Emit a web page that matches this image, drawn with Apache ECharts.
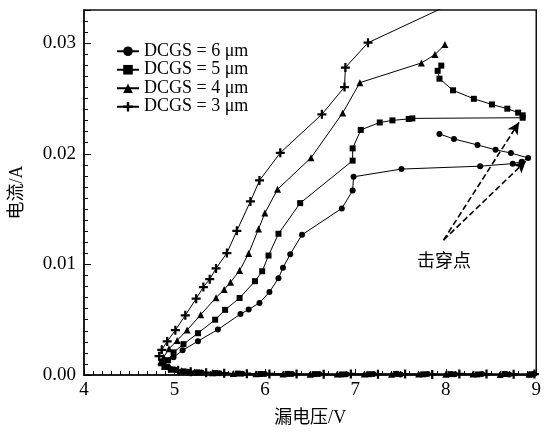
<!DOCTYPE html>
<html><head><meta charset="utf-8">
<script src="https://cdn.jsdelivr.net/npm/echarts@6/dist/echarts.min.js"></script>
<style>html,body{margin:0;padding:0;background:#fff}#c{width:544px;height:432px}</style>
</head><body><div id="c"></div>
<script>
var seriesNames = ['DCGS = 6 μm', 'DCGS = 5 μm', 'DCGS = 4 μm', 'DCGS = 3 μm'];
var xTicks = [4, 5, 6, 7, 8, 9];
var yTicks = [0, 0.01, 0.02, 0.03];

// DCGS = 6um (circles)
var v6 = [8.97,8.7,8.4,8.1,7.8,7.5,7.2,6.9,6.6,6.3,6.0,5.75,5.5,5.3,5.15,5.02,4.93,4.88,
  4.99,5.09,5.26,5.48,5.73,5.82,5.94,6.05,6.15,6.20,6.28,6.41,6.85,6.97,6.98,7.51,8.38,8.74,8.84,8.91,8.72,8.55,8.35,8.09,7.93];
var i6 = [0.00008,0.00005,0.00009,0.00006,0.0001,0.00005,0.00008,0.00006,0.00009,0.00008,0.0001,0.00012,0.00015,0.00022,0.0003,0.00045,0.0007,0.001,
  0.0016,0.00223,0.00306,0.00411,0.00551,0.00592,0.00652,0.0075,0.00875,0.0097,0.01092,0.01268,0.01506,0.01667,0.01792,0.01862,0.01888,0.01911,0.01929,0.01962,0.02007,0.02036,0.0208,0.02134,0.02179];

// DCGS = 5um (squares)
var v5 = [8.95,8.65,8.35,8.05,7.75,7.45,7.15,6.85,6.55,6.25,5.95,5.7,5.45,5.25,5.1,4.98,4.9,4.86,
  4.93,4.99,5.10,5.26,5.45,5.56,5.72,5.89,5.97,6.04,6.15,6.39,6.97,6.97,7.06,7.27,7.41,7.59,7.63,8.85,8.85,8.80,8.68,8.51,8.31,8.08,7.93,7.91,7.95];
var i5 = [0.00006,0.00009,0.00005,0.00008,0.00006,0.0001,0.00007,0.00005,0.00008,0.0001,0.00009,0.00013,0.00017,0.00024,0.00033,0.0005,0.00075,0.0011,
  0.00134,0.00205,0.00279,0.00378,0.005,0.00589,0.00696,0.00848,0.00938,0.0108,0.01277,0.01554,0.01938,0.02049,0.02216,0.02283,0.02302,0.02315,0.0232,0.02326,0.02348,0.02372,0.02408,0.02446,0.02497,0.02574,0.02679,0.0275,0.02797];

// DCGS = 4um (triangles)
var v4 = [8.92,8.6,8.3,8.0,7.7,7.4,7.1,6.8,6.5,6.2,5.9,5.65,5.42,5.22,5.08,4.97,4.89,4.85,
  4.88,4.94,5.03,5.14,5.29,5.46,5.55,5.62,5.72,5.82,5.93,6.00,6.14,6.51,6.86,7.05,7.73,7.88,7.99];
var i4 = [0.00007,0.00005,0.0001,0.00006,0.00009,0.00007,0.0001,0.00008,0.00006,0.00009,0.00011,0.00014,0.0002,0.00028,0.00038,0.00055,0.0008,0.0012,
  0.0016,0.00237,0.00313,0.00406,0.00545,0.00699,0.00772,0.00839,0.00944,0.01098,0.01321,0.01464,0.01679,0.01964,0.02369,0.02643,0.02821,0.02897,0.02987];

// DCGS = 3um (plus)
var v3 = [8.98,8.75,8.45,8.15,7.85,7.55,7.25,6.95,6.65,6.35,6.05,5.8,5.55,5.35,5.18,5.04,4.94,4.87,
  4.83,4.86,4.92,5.01,5.12,5.24,5.32,5.39,5.46,5.58,5.69,5.84,5.94,6.17,6.63,6.88,6.89,7.14,8.24];
var i3 = [0.00009,0.00006,0.00008,0.0001,0.00005,0.00009,0.00007,0.0001,0.00006,0.00008,0.0001,0.00012,0.00016,0.00021,0.0003,0.00042,0.0006,0.0009,
  0.0017,0.00228,0.00304,0.00405,0.0054,0.0069,0.00795,0.00866,0.00964,0.01103,0.01304,0.01569,0.01759,0.02009,0.02357,0.02603,0.0278,0.03004,0.03424];

// annotation arrows (data coordinates): start, upper tip, lower tip
var arrowStart = [7.975, 0.0122];
var arrowTipUpper = [8.81, 0.02285];
var arrowTipLower = [8.885, 0.01935];
var annotationText = '击穿点';

function pairs(v, i) { return v.map(function (x, k) { return [x, i[k]]; }); }

var serif = "'Liberation Serif', 'DejaVu Serif', 'Noto Sans CJK SC', serif";
var cjk = "'Liberation Serif', 'Noto Sans CJK SC', serif";
var plusPath = 'path://M3,0H5V3H8V5H5V8H3V5H0V3H3Z';
var symbols = ['circle', 'rect', 'triangle', plusPath];
var sizes = [6, 6, 7, 9];
var datas = [pairs(v6, i6), pairs(v5, i5), pairs(v4, i4), pairs(v3, i3)];

var series = datas.map(function (d, k) {
  var s = {
    name: seriesNames[k], type: 'line', data: d, yAxisIndex: 0,
    symbol: symbols[k], symbolSize: sizes[k], showAllSymbol: true,
    lineStyle: { color: '#000', width: 1 },
    itemStyle: { color: '#000', borderWidth: 0 },
    clip: true, z: 3
  };
  if (k === 0) {
    s.markLine = {
      silent: true, symbol: ['none', 'arrow'], symbolSize: [9, 12],
      label: { show: false },
      lineStyle: { color: '#000', type: [6, 3], width: 1.6 },
      data: [
        [{ coord: arrowStart }, { coord: arrowTipUpper }],
        [{ coord: arrowStart }, { coord: arrowTipLower }]
      ]
    };
  }
  return s;
});

var chart = echarts.init(document.getElementById('c'), null, { renderer: 'canvas' });
chart.setOption({
  animation: false,
  backgroundColor: '#fff',
  grid: { left: 83, right: 5, top: 10, bottom: 53, show: true, borderColor: '#111', borderWidth: 1.5, backgroundColor: 'transparent' },
  legend: {
    orient: 'vertical', left: 111, top: 37, itemWidth: 22, itemHeight: 12, itemGap: 0,
    data: seriesNames,
    textStyle: { fontFamily: serif, fontSize: 18, color: '#000', lineHeight: 18.5 },
    inactiveColor: '#000'
  },
  xAxis: {
    type: 'value', min: 4, max: 9, interval: 1,
    name: '漏电压/V', nameLocation: 'middle', nameGap: 34,
    nameTextStyle: { fontFamily: cjk, fontSize: 18, color: '#000' },
    axisLine: { show: true, lineStyle: { color: '#111', width: 1.5 } },
    axisTick: { show: true, inside: true, length: 6, lineStyle: { color: '#000' } },
    minorTick: { show: true, splitNumber: 10, length: 4, lineStyle: { color: '#000' } },
    axisLabel: { fontFamily: serif, fontSize: 19, color: '#000', margin: 6,
      formatter: function (v) { return xTicks.indexOf(v) >= 0 ? String(v) : ''; } },
    splitLine: { show: false }
  },
  yAxis: [{
    type: 'value', min: 0, max: 0.033, interval: 0.001,
    axisLine: { show: true, lineStyle: { color: '#111', width: 1.5 } },
    axisTick: { show: true, inside: true, length: 4, lineStyle: { color: '#000' } },
    axisLabel: { show: false },
    splitLine: { show: false }
  }, {
    type: 'value', min: 0, max: 0.033, interval: 0.01, position: 'left',
    name: '电流/A', nameLocation: 'middle', nameGap: 58,
    nameTextStyle: { fontFamily: cjk, fontSize: 18, color: '#000' },
    axisLine: { show: false },
    axisTick: { show: true, inside: true, length: 7, lineStyle: { color: '#000' } },
    axisLabel: { fontFamily: serif, fontSize: 19, color: '#000', margin: 8,
      formatter: function (v) {
        for (var k = 0; k < yTicks.length; k++) { if (Math.abs(v - yTicks[k]) < 1e-9) return yTicks[k].toFixed(2); }
        return '';
      } },
    splitLine: { show: false }
  }],
  graphic: [{
    type: 'text', left: 417, top: 251,
    style: { text: annotationText, fontFamily: "'Noto Sans CJK SC', sans-serif", fontSize: 18, fill: '#000' }
  }],
  series: series
});
</script></body></html>
